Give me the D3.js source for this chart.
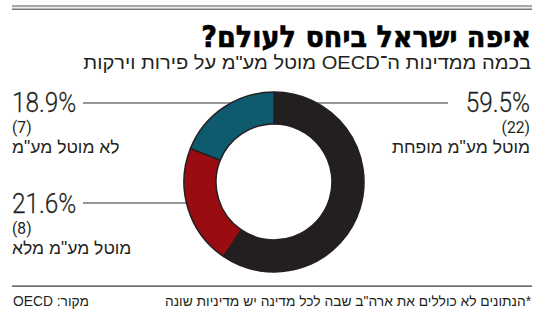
<!DOCTYPE html>
<html lang="he">
<head>
<meta charset="utf-8">
<script src="https://cdn.jsdelivr.net/npm/d3@7/dist/d3.min.js"></script>
<style>
  html, body { margin: 0; padding: 0; background: #fff; }
  svg { display: block; }
</style>
</head>
<body>
<div id="chart"></div>
<script>
// VAT on fruit and vegetables across OECD countries
const categories = ["מוטל מע\"מ מופחת", "מוטל מע\"מ מלא", "לא מוטל מע\"מ"];
const shares = [59.5, 21.6, 18.9];
const counts = [22, 8, 7];
const colors = ["#231f20", "#990c12", "#0e5a6e"];

const title = "איפה ישראל ביחס לעולם?";
const subtitle = "בכמה ממדינות ה־OECD מוטל מע\"מ על פירות וירקות";
const footnote = "*הנתונים לא כוללים את ארה\"ב שבה לכל מדינה יש מדיניות שונה";
const source = "מקור: OECD";

const W = 550, H = 313;
const svg = d3.select("#chart").append("svg")
  .attr("width", W).attr("height", H);

const hebFont = "'Liberation Sans', 'DejaVu Sans', sans-serif";
const numFont = "Roboto, 'Liberation Sans', sans-serif";
const ink = "#231f20";

// squeeze or stretch a right-anchored RTL text horizontally to a target width
function fitWidth(sel, xRight, y, width) {
  const natural = sel.node().getComputedTextLength();
  const k = width / natural;
  sel.attr("x", 0).attr("y", 0)
    .attr("transform", `translate(${xRight},${y}) scale(${k},1)`);
}

// header rules
svg.append("rect").attr("x", 12).attr("y", 5).attr("width", 520).attr("height", 2.2).attr("fill", "#a7a7a7");
svg.append("rect").attr("x", 12).attr("y", 8.6).attr("width", 520).attr("height", 1.2).attr("fill", "#555");

// title and subtitle (right aligned, RTL)
const titleText = svg.append("text")
  .attr("direction", "rtl").attr("text-anchor", "start")
  .attr("font-family", "'DejaVu Sans', sans-serif").attr("font-weight", 900)
  .attr("font-size", 30).attr("fill", "#000")
  .attr("stroke", "#000").attr("stroke-width", 0.6)
  .text(title);
fitWidth(titleText, 531, 47, 330);

const subText = svg.append("text")
  .attr("direction", "rtl").attr("text-anchor", "start")
  .attr("font-family", hebFont)
  .attr("font-size", 19).attr("fill", ink)
  .text(subtitle);
fitWidth(subText, 531, 69, 448);

// donut
const cx = 274, cy = 182, R = 90, r = 58;

// leader lines sit behind the ring
const lines = [
  { x1: 448, x2: 83, y: 103 },
  { x1: 200, x2: 83, y: 203 }
];
svg.append("g").selectAll("line").data(lines).join("line")
  .attr("x1", d => d.x1).attr("x2", d => d.x2)
  .attr("y1", d => d.y).attr("y2", d => d.y)
  .attr("stroke", "#333").attr("stroke-width", 1.2);

const pie = d3.pie().sort(null).value(d => d)(shares);
const arc = d3.arc().innerRadius(r).outerRadius(R);
svg.append("g").attr("transform", `translate(${cx},${cy})`)
  .selectAll("path").data(pie).join("path")
  .attr("d", arc)
  .attr("fill", (d, i) => colors[i])
  .attr("stroke", ink).attr("stroke-width", 1.5)
  .attr("stroke-linejoin", "round");

// labels: index, x anchor, baseline of the percentage, side
const labelPos = [
  { i: 0, x: 530, y: 112, side: "right" },
  { i: 2, x: 12, y: 112, side: "left" },
  { i: 1, x: 12, y: 213, side: "left" }
];
const fmt = d3.format(".1f");
const lab = svg.append("g").selectAll("g").data(labelPos).join("g");

lab.each(function (p) {
  const g = d3.select(this);
  const anchor = p.side === "right" ? "end" : "start";
  // scaled to give a condensed look
  g.append("text")
    .attr("transform", `translate(${p.x},${p.y}) scale(0.87,1)`)
    .attr("text-anchor", anchor)
    .attr("font-family", numFont).attr("font-weight", 300)
    .attr("font-size", 28).attr("fill", ink)
    .attr("stroke", ink).attr("stroke-width", 0.25)
    .text(fmt(shares[p.i]) + "%");
  g.append("text")
    .attr("transform", `translate(${p.x},${p.y + 21}) scale(0.92,1)`)
    .attr("text-anchor", anchor)
    .attr("font-family", numFont).attr("font-weight", 400)
    .attr("font-size", 17).attr("fill", ink)
    .text("(" + counts[p.i] + ")");
  g.append("text")
    .attr("x", p.x).attr("y", p.y + 41)
    .attr("direction", "rtl")
    .attr("text-anchor", p.side === "right" ? "start" : "end")
    .attr("font-family", hebFont)
    .attr("font-size", 17.5).attr("fill", ink)
    .text(categories[p.i]);
});

// footer
svg.append("rect").attr("x", 12).attr("y", 285.5).attr("width", 520).attr("height", 1.2).attr("fill", "#333");
svg.append("text")
  .attr("x", 531).attr("y", 306)
  .attr("direction", "rtl").attr("text-anchor", "start")
  .attr("font-family", hebFont).attr("font-size", 13.8).attr("fill", ink)
  .text(footnote);
svg.append("text")
  .attr("x", 13).attr("y", 306)
  .attr("direction", "rtl").attr("text-anchor", "end")
  .attr("font-family", hebFont).attr("font-size", 13.8).attr("fill", ink)
  .text(source);
</script>
</body>
</html>
